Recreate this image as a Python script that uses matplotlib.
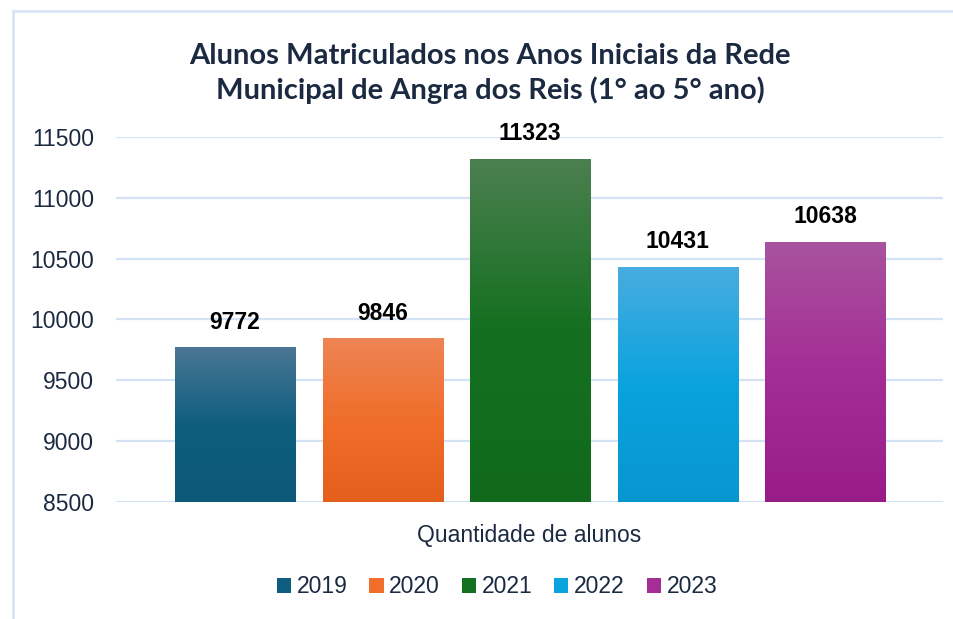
import numpy as np
import matplotlib
matplotlib.use("Agg")
import matplotlib.pyplot as plt
from matplotlib.colors import to_rgb
from matplotlib.patches import Patch
from matplotlib.lines import Line2D

years = ["2019", "2020", "2021", "2022", "2023"]
alunos = [9772, 9846, 11323, 10431, 10638]
# top, middle, bottom colours of each bar gradient
cores_topo = ["#4a7694", "#ee8455", "#4c7f50", "#48ace0", "#a9539e"]
cores_meio = ["#0f5e80", "#f06e2a", "#147020", "#0aa3de", "#a42d96"]
cores_base = ["#0c5878", "#e35f1c", "#116a1c", "#0896d0", "#981c88"]
yticks = [8500, 9000, 9500, 10000, 10500, 11000, 11500]

navy = "#1b2a41"
grid_color = "#d3e2f5"


def gradient(c_top, c_mid, c_bot, n=200):
    t = np.linspace(0, 1, n)[:, None]
    top, mid, bot = np.array(to_rgb(c_top)), np.array(to_rgb(c_mid)), np.array(to_rgb(c_bot))
    upper = top + (mid - top) * np.clip(t / 0.5, 0, 1)
    lower = mid + (bot - mid) * np.clip((t - 0.5) / 0.5, 0, 1)
    cols = np.where(t < 0.5, upper, lower)
    return cols[:, None, :]


fig = plt.figure(figsize=(9.54, 6.19), dpi=100)
ax = fig.add_axes([0.1216, 0.189, 0.8669, 0.5897])

x = np.arange(len(years))
width = 0.814
bars = ax.bar(x, alunos, width=width, color="none", zorder=3)

ymin, ymax = 8500, 11500
for b, ct, cm, cb in zip(bars, cores_topo, cores_meio, cores_base):
    x0 = b.get_x()
    img = ax.imshow(gradient(ct, cm, cb), extent=[x0, x0 + b.get_width(), ymin, b.get_height()],
                    aspect="auto", zorder=3, interpolation="bilinear")
    img.set_clip_path(b)
    ax.text(b.get_x() + b.get_width() / 2, b.get_height() + 112, str(int(b.get_height())),
            ha="center", va="bottom", fontsize=16.5, fontweight="bold",
            family="Liberation Sans", color="black", zorder=4)

ax.set_xlim(-0.807, 4.8)
ax.set_ylim(ymin, ymax)
ax.set_yticks(yticks)
ax.set_xticks([])
ax.tick_params(axis="y", length=0, pad=16, labelsize=16.5, labelcolor=navy)
for lab in ax.get_yticklabels():
    lab.set_family("Liberation Sans")
ax.grid(axis="y", color=grid_color, linewidth=1.6, zorder=0)
for s in ax.spines.values():
    s.set_visible(False)

ax.set_xlabel("Quantidade de alunos", fontsize=16.5, color=navy, family="Liberation Sans", labelpad=16)

fig.text(0.514, 0.881, "Alunos Matriculados nos Anos Iniciais da Rede\nMunicipal de Angra dos Reis (1° ao 5° ano)",
         ha="center", va="center", fontsize=21, fontweight="bold", family="Lato",
         color=navy, linespacing=1.31)

handles = [Patch(facecolor=c, edgecolor="none") for c in cores_meio]
fig.legend(handles, years, loc="center", bbox_to_anchor=(0.521, 0.052), ncol=5, frameon=False,
           prop={"family": "Liberation Sans", "size": 16.5}, labelcolor=navy,
           handlelength=0.62, handleheight=0.62, handletextpad=0.25, columnspacing=0.95)

# outer frame (top and left edges)
fig.add_artist(Line2D([0.0136, 1.0], [0.982, 0.982], color=grid_color, linewidth=1.8))
fig.add_artist(Line2D([0.0136, 0.0136], [0.0, 0.982], color=grid_color, linewidth=1.8))

fig.savefig("out.png", dpi=100)
